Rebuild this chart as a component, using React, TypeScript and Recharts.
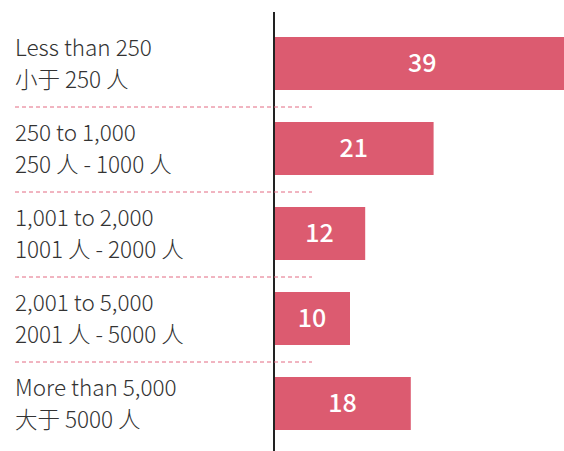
import React from 'react';
import { BarChart, Bar, XAxis, YAxis, LabelList } from 'recharts';

const sizeEn = ['Less than 250', '250 to 1,000', '1,001 to 2,000', '2,001 to 5,000', 'More than 5,000'];
const sizeZh = ['小于 250 人', '250 人 - 1000 人', '1001 人 - 2000 人', '2001 人 - 5000 人', '大于 5000 人'];
const counts = [39, 21, 12, 10, 18];

const data = sizeEn.map((en, i) => ({ name: en, zh: sizeZh[i], value: counts[i] }));

const FONT = '"Noto Sans CJK SC", "Noto Sans", sans-serif';

// Two-line label plus the dashed separator under each row
const SizeTick = (props: any) => {
  const { y, payload } = props;
  const i = payload.index;
  return (
    <g>
      <text x={15} y={y - 8} fontSize={22.5} fontWeight={300} fill="#333" fontFamily={FONT}>
        {sizeEn[i]}
      </text>
      <text x={15} y={y + 24} fontSize={22.5} fontWeight={300} fill="#333" fontFamily={FONT}>
        {sizeZh[i]}
      </text>
      {i < sizeEn.length - 1 && (
        <line
          x1={15}
          x2={312}
          y1={y + 43.5}
          y2={y + 43.5}
          stroke="#e36a82"
          strokeWidth={1}
          strokeDasharray="4 3"
        />
      )}
    </g>
  );
};

export default function App() {
  return (
    <div
      style={{
        position: 'absolute',
        left: 0,
        top: 0,
        width: 564,
        height: 451,
        overflow: 'hidden',
        background: '#fff',
      }}
    >
      <BarChart
        width={578}
        height={451}
        data={data}
        layout="vertical"
        margin={{ top: 12, right: 0, bottom: 0, left: 0 }}
        barCategoryGap={16}
      >
        <XAxis type="number" domain={[0, 40]} hide />
        <Bar dataKey="value" fill="#dc5b70" isAnimationActive={false}>
          <LabelList
            dataKey="value"
            position="center"
            fill="#fff"
            fontSize={25}
            fontWeight={500}
            fontFamily={FONT}
          />
        </Bar>
        <YAxis
          type="category"
          dataKey="name"
          width={274}
          padding={{ top: 9, bottom: 5 }}
          axisLine={{ stroke: '#222', strokeWidth: 2 }}
          tickLine={false}
          tick={<SizeTick />}
          interval={0}
        />
      </BarChart>
    </div>
  );
}
